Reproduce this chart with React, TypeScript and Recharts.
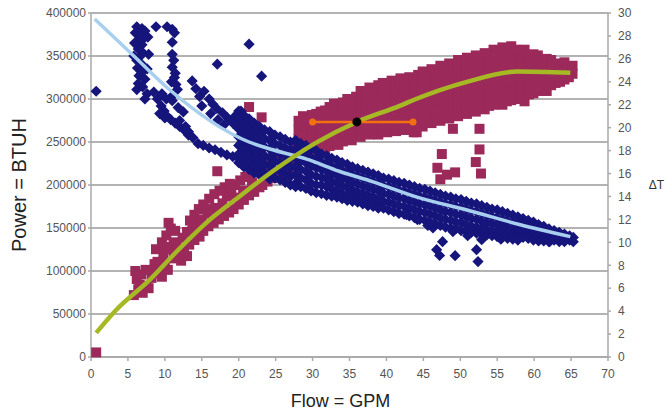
import { ComposedChart, Scatter, XAxis, YAxis, CartesianGrid } from "recharts";

const flowTicks = [0, 5, 10, 15, 20, 25, 30, 35, 40, 45, 50, 55, 60, 65, 70];
const powerTicks = [0, 50000, 100000, 150000, 200000, 250000, 300000, 350000, 400000];
const deltaTicks = [0, 2, 4, 6, 8, 10, 12, 14, 16, 18, 20, 22, 24, 26, 28, 30];

// power (BTUH) readings at low flow, [flow, power]
const powerLeft = [
  [0.7, 309000],
  [6.2, 384000], [6.9, 382000], [7.3, 379000], [6.0, 377000], [6.6, 374000], [7.1, 370000], [6.3, 367000],
  [6.9, 363000], [6.4, 358000], [7.0, 354000], [6.6, 349000], [6.2, 345000], [6.8, 341000], [6.3, 336000],
  [7.0, 332000], [6.5, 327000], [7.3, 323000], [6.4, 318000], [7.0, 314000], [6.2, 311000], [7.6, 306000],
  [7.3, 300000], [7.7, 372000], [7.8, 352000], [7.6, 335000], [5.9, 365000], [5.8, 350000],
  [8.8, 384000], [10.3, 384000], [11.0, 381000], [11.3, 377000], [11.0, 366000], [11.2, 345000], [11.0, 352000],
  [11.0, 337000], [11.4, 330000], [11.3, 325000], [10.9, 320000], [11.5, 317000], [11.7, 311000],
  [17.1, 340500], [21.4, 363800], [23.1, 326500],
  [8.5, 308000], [9.0, 300000], [9.5, 292000], [9.9, 286000], [10.3, 280000], [10.8, 276000], [11.4, 272000],
  [12.0, 268000], [12.6, 264000], [13.2, 258000], [13.8, 255000], [14.5, 248000], [15.2, 246000], [16.0, 243000],
  [16.8, 241000], [17.6, 238000], [18.4, 235000], [19.2, 233000], [20.0, 231000], [21.0, 230000],
  [9.6, 306000], [10.2, 300000], [10.8, 302000], [9.3, 283000], [10.0, 278000], [11.0, 298000], [11.8, 290000],
  [12.5, 285000], [12.0, 275000], [12.8, 268000], [13.2, 262000],
  [13.7, 321000], [14.2, 312000], [14.7, 303000], [15.3, 309000], [16.0, 300000], [16.5, 294000], [17.0, 289000],
  [17.8, 284000], [18.5, 278000], [19.2, 272000], [19.9, 266000], [20.6, 262000], [21.3, 258000], [16.2, 283000],
  [17.2, 276000], [18.0, 270000], [15.0, 292000], [19.5, 280000], [20.3, 286000], [21.0, 274000],
];

// power band in thousands of BTUH, [flow, [readings]]
const powerColsK: [number, number[]][] = [
  [20.0, [286, 276, 266, 256, 246, 236, 226]],
  [20.7, [281, 271, 261, 251, 241, 231, 221]],
  [21.4, [277, 267, 257, 247, 237, 227, 218]],
  [22.1, [272, 262, 252, 242, 232, 222, 214]],
  [22.8, [268, 258, 248, 238, 228, 218, 212]],
  [23.5, [264, 254, 244, 234, 224, 214]],
  [24.2, [262, 252, 242, 232, 222, 212, 207]],
  [24.9, [258, 248, 238, 228, 218, 208]],
  [25.6, [256, 246, 236, 226, 216, 206]],
  [26.3, [253, 243, 233, 223, 213, 203]],
  [27.0, [250, 240, 230, 220, 210, 200]],
  [27.7, [252, 242, 232, 222, 212, 202, 198]],
  [28.4, [248, 238, 228, 218, 208, 198]],
  [29.1, [246, 236, 226, 216, 206, 196]],
  [29.8, [242, 232, 222, 212, 202, 193]],
  [30.5, [240, 230, 220, 210, 200, 191]],
  [31.2, [236, 227, 218, 209, 200, 190]],
  [31.9, [234, 225, 216, 207, 198, 188]],
  [32.6, [231, 222, 213, 204, 195, 187]],
  [33.3, [229, 220, 211, 202, 193, 186]],
  [34.0, [226, 217, 208, 199, 190, 184]],
  [34.7, [224, 215, 206, 197, 188, 182]],
  [35.4, [221, 212, 203, 194, 186, 181]],
  [36.1, [219, 210, 201, 192, 184, 180]],
  [36.8, [217, 208, 199, 190, 182, 178]],
  [37.5, [215, 206, 197, 188, 180, 176]],
  [38.2, [213, 204, 195, 186, 178, 175]],
  [38.9, [211, 202, 193, 184, 176, 173]],
  [39.6, [208, 199, 190, 181, 173]],
  [40.3, [207, 198, 189, 180, 171]],
  [41.0, [205, 196, 187, 178, 169]],
  [41.7, [203, 194, 185, 176, 167]],
  [42.4, [202, 193, 184, 175, 166]],
  [43.1, [200, 191, 182, 173, 164]],
  [43.8, [198, 189, 180, 171, 162]],
  [44.5, [196, 187, 178, 169, 160]],
  [45.2, [195, 186, 177, 168, 159]],
  [45.9, [193, 184, 175, 166, 157]],
  [46.6, [191, 182, 173, 164, 155]],
  [47.3, [189, 180, 171, 162, 153]],
  [48.0, [187, 178, 169, 160, 151]],
  [48.7, [186, 177, 168, 159, 150]],
  [49.4, [184, 175, 166, 157, 149]],
  [50.1, [183, 174, 165, 156, 147]],
  [50.8, [181, 172, 163, 154, 146]],
  [51.5, [179, 170, 161, 152, 145]],
  [52.2, [178, 169, 160, 151, 144]],
  [52.9, [176, 167, 158, 150, 143]],
  [53.6, [174, 165, 156, 148, 142]],
  [54.3, [172, 163, 155, 147, 141]],
  [55.0, [171, 162, 154, 146, 140]],
  [55.7, [169, 160, 152, 145, 139]],
  [56.4, [167, 158, 150, 143, 138]],
  [57.1, [165, 157, 149, 142, 137]],
  [57.8, [163, 155, 147, 140, 136]],
  [58.5, [161, 153, 146, 139]],
  [59.2, [159, 151, 144, 138]],
  [59.9, [157, 149, 142, 136]],
  [60.6, [154, 147, 140, 135]],
  [61.3, [152, 145, 139, 135]],
  [62.0, [149, 143, 137, 134]],
  [62.7, [147, 141, 136]],
  [63.4, [145, 139, 134]],
  [64.1, [143, 138, 134]],
  [64.8, [141, 136]],
  [65.3, [139, 134]],
];

const powerLow = [
  [42.7, 165600], [44.2, 159700], [46.3, 150000], [49.0, 145800], [47.6, 134100], [46.8, 124800],
  [47.2, 118000], [49.3, 117800], [52.2, 124800], [52.4, 111000], [52.9, 136400], [62.1, 134100],
  [45.6, 153000], [51.0, 141000], [55.5, 137000],
];

// delta T readings at low flow, [flow, deltaT]
const deltaLeft = [
  [0.7, 0.4],
  [5.8, 5.4], [6.4, 5.9], [7.0, 5.6], [7.5, 6.2], [6.2, 6.8], [6.8, 7.2], [7.4, 7.6], [6.0, 7.5], [6.6, 6.3],
  [8.2, 6.9], [8.8, 7.3], [9.4, 7.8], [10.0, 8.2], [8.6, 8.1], [9.6, 7.0], [10.4, 7.6], [7.8, 6.0], [8.4, 7.5],
  [8.8, 9.4],
  [9.6, 10.0], [10.2, 10.6], [10.8, 11.2], [11.2, 10.0], [10.5, 11.7], [11.4, 11.0], [9.9, 9.6],
  [11.2, 8.6], [11.9, 9.0], [12.6, 9.4], [13.3, 9.8], [14.0, 10.2], [14.7, 10.5], [12.2, 8.4], [13.0, 8.8],
  [9.0, 8.3], [9.8, 8.9], [10.6, 9.4], [11.6, 9.8], [12.4, 10.4], [13.0, 10.9], [13.7, 11.0], [14.4, 11.6],
  [13.4, 11.9], [14.0, 12.4], [14.6, 12.9], [15.2, 13.3], [13.8, 11.5], [15.8, 12.5],
  [15.2, 11.0], [15.9, 11.4], [16.6, 11.7], [17.3, 12.0], [18.0, 12.3], [18.7, 12.6], [16.0, 13.8],
  [16.7, 14.2], [17.4, 14.5], [18.1, 14.8], [16.9, 13.0], [17.8, 13.4], [15.0, 12.0], [16.3, 12.9],
  [18.4, 14.0], [19.0, 14.4],
  [17.1, 16.2],
  [19.3, 12.9], [20.0, 13.3], [20.7, 13.7], [21.4, 14.1], [22.1, 14.4], [22.8, 14.8], [18.8, 15.1],
  [19.5, 15.0], [20.2, 15.4], [20.9, 15.7], [21.6, 16.0], [19.4, 13.9], [20.6, 14.5], [21.8, 15.2],
  [21.4, 21.8], [23.1, 20.9],
  [23.2, 15.0], [23.9, 15.3], [24.6, 15.6], [25.3, 16.0], [26.0, 16.4], [26.7, 16.8], [22.6, 16.4],
  [23.4, 16.7], [24.2, 17.0], [25.0, 17.3], [25.8, 17.2], [24.0, 16.1], [26.5, 15.6], [27.2, 16.2],
];

// delta T band, [flow, [deltaT readings]]
const deltaCols: [number, number[]][] = [
  [27.5, [16.9, 17.8, 18.6]],
  [28.1, [17.3, 18.1, 19.0, 19.8, 20.6]],
  [28.7, [17.6, 18.5, 19.3, 20.2, 21.0]],
  [29.3, [17.4, 18.2, 19.1, 19.9, 20.8]],
  [29.9, [17.8, 18.6, 19.5, 20.3, 21.1]],
  [30.5, [17.9, 18.8, 19.6, 20.5, 21.2]],
  [31.1, [18.3, 19.1, 20.0, 20.8, 21.4]],
  [31.7, [18.1, 18.9, 19.8, 20.6, 21.5]],
  [32.3, [18.4, 19.2, 20.1, 20.9, 21.8]],
  [32.9, [18.7, 19.6, 20.4, 21.3, 22.1]],
  [33.5, [18.5, 19.4, 20.2, 21.1, 21.9]],
  [34.1, [18.8, 19.7, 20.5, 21.4, 22.2]],
  [34.7, [19.1, 20.0, 20.8, 21.7, 22.5]],
  [35.3, [18.9, 19.8, 20.6, 21.5, 22.3]],
  [35.9, [19.3, 20.1, 21.0, 21.8, 22.7]],
  [36.5, [19.2, 20.0, 20.9, 21.7, 22.6, 23.2]],
  [37.1, [19.5, 20.4, 21.2, 22.1, 22.9]],
  [37.7, [19.4, 20.2, 21.1, 21.9, 22.8, 23.5]],
  [38.3, [19.6, 20.5, 21.3, 22.2, 23.0]],
  [38.9, [19.4, 20.3, 21.1, 22.0, 22.8, 23.7]],
  [39.5, [19.8, 20.6, 21.5, 22.3, 23.2, 23.9]],
  [40.1, [19.6, 20.4, 21.3, 22.1, 23.0, 23.8]],
  [40.7, [19.9, 20.8, 21.6, 22.5, 23.3, 24.1]],
  [41.3, [19.7, 20.6, 21.4, 22.3, 23.1, 24.0]],
  [41.9, [20.1, 20.9, 21.8, 22.6, 23.5, 24.3]],
  [42.5, [19.8, 20.7, 21.5, 22.4, 23.2, 24.1]],
  [43.1, [20.2, 21.0, 21.9, 22.7, 23.6, 24.4]],
  [43.7, [19.6, 20.8, 21.7, 22.5, 23.4, 24.2]],
  [44.3, [20.3, 21.2, 22.0, 22.9, 23.7, 24.6]],
  [44.9, [20.1, 21.0, 21.8, 22.7, 23.5, 24.4, 24.9]],
  [45.5, [20.5, 21.3, 22.2, 23.0, 23.9, 24.7]],
  [46.1, [20.4, 21.2, 22.1, 22.9, 23.8, 24.6, 25.1]],
  [46.7, [20.7, 21.6, 22.4, 23.3, 24.1, 25.0]],
  [47.3, [20.6, 21.4, 22.3, 23.1, 24.0, 24.8, 25.4]],
  [47.9, [20.9, 21.7, 22.6, 23.4, 24.3, 25.1]],
  [48.5, [20.8, 21.6, 22.5, 23.3, 24.2, 25.0, 25.6]],
  [49.1, [21.1, 21.9, 22.8, 23.6, 24.5, 25.3]],
  [49.7, [21.0, 21.8, 22.7, 23.5, 24.4, 25.2, 25.9]],
  [50.3, [21.3, 22.1, 23.0, 23.8, 24.7, 25.5]],
  [50.9, [21.2, 22.0, 22.9, 23.7, 24.6, 25.4, 26.1]],
  [51.5, [21.5, 22.3, 23.2, 24.0, 24.9, 25.7]],
  [52.1, [21.4, 22.2, 23.1, 23.9, 24.8, 25.6, 26.3]],
  [52.7, [21.7, 22.5, 23.4, 24.2, 25.1, 25.9]],
  [53.3, [21.6, 22.4, 23.3, 24.1, 25.0, 25.8, 26.5]],
  [53.9, [21.9, 22.7, 23.6, 24.4, 25.3, 26.1]],
  [54.5, [22.0, 22.8, 23.7, 24.5, 25.4, 26.2, 26.8]],
  [55.1, [22.1, 22.9, 23.8, 24.6, 25.5, 26.3]],
  [55.7, [22.0, 22.8, 23.7, 24.5, 25.4, 26.2, 27.0]],
  [56.3, [22.3, 23.1, 24.0, 24.8, 25.7, 26.5]],
  [56.9, [22.4, 23.2, 24.1, 24.9, 25.8, 26.6, 27.1]],
  [57.5, [22.6, 23.4, 24.3, 25.1, 26.0, 26.8]],
  [58.1, [22.5, 23.3, 24.2, 25.0, 25.9, 26.7]],
  [58.7, [22.3, 23.6, 24.4, 25.3, 26.1, 26.8]],
  [59.3, [22.9, 23.7, 24.6, 25.4, 26.3]],
  [59.9, [23.0, 23.9, 24.7, 25.6, 26.4]],
  [60.5, [23.2, 24.1, 24.9, 25.8, 26.3]],
  [61.1, [23.4, 24.2, 25.1, 25.9]],
  [61.7, [23.2, 24.0, 24.9, 25.7, 26.0]],
  [62.3, [23.7, 24.5, 25.4, 25.9]],
  [62.9, [23.9, 24.7, 25.5]],
  [63.5, [24.0, 24.8, 25.6]],
  [64.1, [24.2, 25.0, 25.7]],
  [64.7, [24.4, 25.2]],
  [65.2, [24.7, 25.4]],
];

const deltaLow = [
  [44.1, 19.6], [49.0, 19.9], [52.6, 19.9], [47.5, 17.7], [46.9, 16.5], [47.3, 15.5], [49.3, 16.1],
  [52.6, 18.1], [52.1, 17.0], [52.8, 16.0], [48.2, 15.9],
];

// trend lines
const powerTrend = [
  [0.5, 393000], [5.8, 350000], [10.6, 311000], [21.4, 250000], [24.6, 241000], [29.2, 230000],
  [33.6, 216000], [38.1, 204000], [44.5, 185000], [50.9, 171000], [58.0, 154000], [64.9, 140000],
];
const deltaTrend = [
  [0.7, 2.1], [3.4, 4.1], [7.9, 6.7], [11.9, 9.4], [15.6, 11.7], [20.1, 14.0], [24.6, 16.2],
  [30.5, 18.7], [36.0, 20.5], [41.8, 21.9], [44.0, 22.5], [50.9, 24.0], [57.7, 24.9], [64.9, 24.8],
];
const rangeBar = [[30.0, 20.5], [43.6, 20.5]];
const meanPoint = [[36.0, 20.5]];

const toP = (rows: number[][]) => rows.map(([x, p]) => ({ x, p }));
const toT = (rows: number[][]) => rows.map(([x, t]) => ({ x, t }));
const flatten = (cols: [number, number[]][], unit = 1) => cols.flatMap(([x, vs]) => vs.map((v) => [x, v * unit]));

const powerData = toP([...powerLeft, ...flatten(powerColsK, 1000), ...powerLow]);
const deltaData = toT([...deltaLeft, ...flatten(deltaCols), ...deltaLow]);

const Diamond = (props: any) => {
  const { cx, cy } = props;
  const r = 5.6;
  return <path d={`M${cx},${cy - r}L${cx + r},${cy}L${cx},${cy + r}L${cx - r},${cy}Z`} fill="#16157c" />;
};

const Square = (props: any) => {
  const { cx, cy } = props;
  return <rect x={cx - 5} y={cy - 5} width={10} height={10} fill="#9b2a5b" />;
};

const OrangeDot = (props: any) => <circle cx={props.cx} cy={props.cy} r={3.5} fill="#f2700f" />;
const BlackDot = (props: any) => <circle cx={props.cx} cy={props.cy} r={4.5} fill="#000" />;
const NoDot = () => <g />;

const tickStyle = { fontSize: 12, fill: "#555" };
const axisColor = "#a9a9a9";

export default function App() {
  return (
    <div style={{ position: "absolute", left: 0, top: 0, width: 666, height: 414, background: "#fff", fontFamily: "'Liberation Sans', Arial, sans-serif" }}>
      <ComposedChart width={666} height={414} margin={{ top: 13, right: 0, bottom: 0, left: 0 }}>
        <CartesianGrid yAxisId="left" vertical={false} stroke="#9a9a9a" strokeWidth={1.3} />
        <XAxis
          type="number"
          dataKey="x"
          domain={[0, 70]}
          ticks={flowTicks}
          height={57}
          tick={tickStyle}
          stroke={axisColor}
          strokeWidth={1.5}
          tickSize={4}
          tickMargin={8}
          label={{ value: "Flow = GPM", position: "insideBottom", offset: 7, dx: -9, style: { fontSize: 18, fill: "#222" } }}
        />
        <YAxis
          yAxisId="left"
          type="number"
          domain={[0, 400000]}
          ticks={powerTicks}
          width={91}
          tick={tickStyle}
          stroke={axisColor}
          strokeWidth={1.5}
          tickSize={3}
          tickMargin={2}
          label={{ value: "Power = BTUH", angle: -90, position: "insideLeft", offset: 19, style: { fontSize: 20, fill: "#222", textAnchor: "middle" } }}
        />
        <YAxis
          yAxisId="right"
          orientation="right"
          type="number"
          domain={[0, 30]}
          ticks={deltaTicks}
          width={58}
          tick={tickStyle}
          stroke={axisColor}
          strokeWidth={1.5}
          tickSize={3}
          tickMargin={7}
          label={{ value: "ΔT", position: "insideRight", offset: 2, style: { fontSize: 12, fill: "#333" } }}
        />
        <Scatter yAxisId="right" data={deltaData} dataKey="t" shape={Square} isAnimationActive={false} />
        <Scatter yAxisId="left" data={powerData} dataKey="p" shape={Diamond} isAnimationActive={false} />
        <Scatter
          yAxisId="left"
          data={toP(powerTrend)}
          dataKey="p"
          shape={NoDot}
          line={{ stroke: "#a8cfee", strokeWidth: 3.5 }}
          lineType="joint"
          lineJointType="monotone"
          isAnimationActive={false}
        />
        <Scatter
          yAxisId="right"
          data={toT(deltaTrend)}
          dataKey="t"
          shape={NoDot}
          line={{ stroke: "#a7b825", strokeWidth: 4.5 }}
          lineType="joint"
          lineJointType="monotone"
          isAnimationActive={false}
        />
        <Scatter
          yAxisId="right"
          data={toT(rangeBar)}
          dataKey="t"
          shape={OrangeDot}
          line={{ stroke: "#f2700f", strokeWidth: 2.5 }}
          lineType="joint"
          isAnimationActive={false}
        />
        <Scatter yAxisId="right" data={toT(meanPoint)} dataKey="t" shape={BlackDot} isAnimationActive={false} />
      </ComposedChart>
    </div>
  );
}
